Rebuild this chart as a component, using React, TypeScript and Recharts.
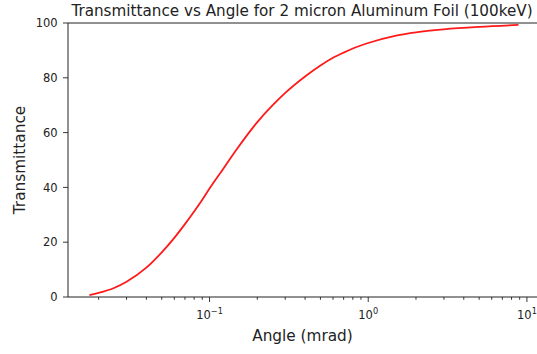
import React from "react";
import { LineChart, Line, XAxis, YAxis, ReferenceLine } from "recharts";

// scattering angle (mrad) and transmittance (%) along the curve
const angles = [
  0.0175, 0.02, 0.025, 0.03, 0.04, 0.05, 0.06, 0.07, 0.08, 0.09, 0.1, 0.12,
  0.15, 0.2, 0.25, 0.3, 0.4, 0.5, 0.6, 0.7, 0.8, 1.0, 1.5, 2, 3, 5, 8.85,
];
const transmittance = [
  0.7, 1.5, 3.3, 5.6, 10.7, 16.3, 21.6, 26.6, 31.2, 35.5, 39.6, 46.2,
  54.3, 63.8, 70.0, 74.5, 80.5, 84.5, 87.3, 89.2, 90.7, 92.7, 95.4, 96.6,
  97.7, 98.6, 99.3,
];

const xMajorTicks = [0.1, 1, 10];
const xMinorTicks = [
  0.02, 0.03, 0.04, 0.05, 0.06, 0.07, 0.08, 0.09,
  0.2, 0.3, 0.4, 0.5, 0.6, 0.7, 0.8, 0.9,
  2, 3, 4, 5, 6, 7, 8, 9,
];
const yTicks = [0, 20, 40, 60, 80, 100];

const title = "Transmittance vs Angle for 2 micron Aluminum Foil (100keV)";
const xLabel = "Angle (mrad)";
const yLabel = "Transmittance";

const INK = "#222";
const FONT = "DejaVu Sans";

const data = angles.map((a, i) => ({ angle: a, t: transmittance[i] }));

function XTick(props: any) {
  const { x, y, payload } = props;
  const v = payload.value as number;
  const exp = Math.round(Math.log10(v));
  const major = Math.abs(Math.log10(v) - exp) < 1e-6;
  return (
    <g>
      <line x1={x} x2={x} y1={y} y2={y + (major ? 5 : 2.8)} stroke={INK} strokeWidth={0.9} />
      {major && (
        <text x={x} y={y + 21.6} textAnchor="middle" fontSize={11.5} fontFamily={FONT} fill={INK}>
          10
          <tspan dy={-4.8} fontSize={8.2}>
            {exp < 0 ? "\u2212" + Math.abs(exp) : String(exp)}
          </tspan>
        </text>
      )}
    </g>
  );
}

function YTick(props: any) {
  const { x, y, payload } = props;
  return (
    <g>
      <line x1={x - 5} x2={x} y1={y} y2={y} stroke={INK} strokeWidth={0.9} />
      <text x={x - 10.3} y={y} dy={4.2} textAnchor="end" fontSize={11.5} fontFamily={FONT} fill={INK}>
        {payload.value}
      </text>
    </g>
  );
}

export default function App() {
  return (
    <div
      style={{
        position: "absolute",
        left: 0,
        top: 0,
        width: 537,
        height: 354,
        overflow: "hidden",
        background: "#fff",
        fontFamily: FONT,
      }}
    >
      <LineChart
        width={560}
        height={354}
        data={data}
        margin={{ top: 23, right: 20, bottom: 0, left: 0 }}
      >
        <XAxis
          dataKey="angle"
          type="number"
          scale="log"
          domain={[0.01283, 12.09]}
          allowDataOverflow
          ticks={[...xMinorTicks, ...xMajorTicks].sort((a, b) => a - b)}
          interval={0}
          height={57}
          tickSize={0}
          tickMargin={0}
          tickLine={false}
          tick={<XTick />}
          axisLine={{ stroke: INK, strokeWidth: 1 }}
        />
        <YAxis
          type="number"
          domain={[0, 100]}
          ticks={yTicks}
          interval={0}
          width={68}
          tickSize={0}
          tickMargin={0}
          tickLine={false}
          tick={<YTick />}
          axisLine={{ stroke: INK, strokeWidth: 1 }}
        />
        <ReferenceLine y={100} stroke={INK} strokeWidth={1} />
        <Line
          dataKey="t"
          type="monotone"
          stroke="#ff1a1a"
          strokeWidth={1.8}
          dot={false}
          isAnimationActive={false}
        />
      </LineChart>
      <svg
        width={537}
        height={354}
        style={{ position: "absolute", left: 0, top: 0, pointerEvents: "none" }}
      >
        <text x={302} y={15.5} textAnchor="middle" fontSize={15.2} fontFamily={FONT} fill={INK}>
          {title}
        </text>
        <text x={302.5} y={341} textAnchor="middle" fontSize={15.3} fontFamily={FONT} fill={INK}>
          {xLabel}
        </text>
        <text
          transform="translate(24.5,160) rotate(-90)"
          textAnchor="middle"
          fontSize={15.3}
          fontFamily={FONT}
          fill={INK}
        >
          {yLabel}
        </text>
      </svg>
    </div>
  );
}
